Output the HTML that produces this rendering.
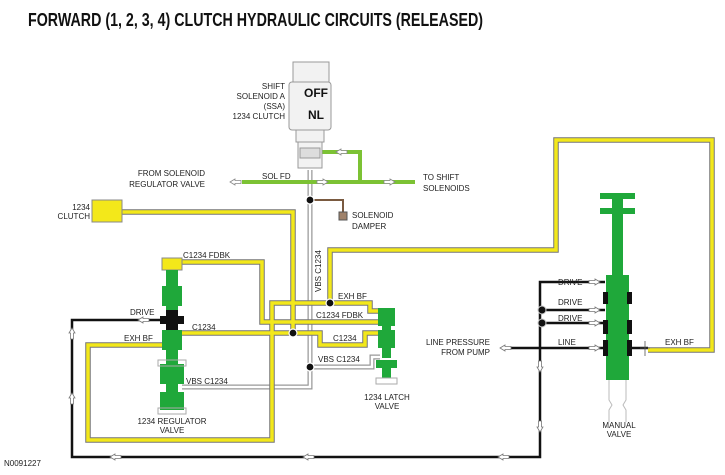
<!DOCTYPE html>
<html><head><meta charset="utf-8"><style>
html,body{margin:0;padding:0;background:#fff;}
svg{display:block;font-family:"Liberation Sans",Arial,sans-serif;}
.t{font-size:8px;fill:#222;}
</style></head><body>
<svg width="725" height="475" viewBox="0 0 725 475" xmlns="http://www.w3.org/2000/svg">
<text x="28" y="26" font-size="18" font-weight="bold" textLength="455" lengthAdjust="spacingAndGlyphs" fill="#111">FORWARD (1, 2, 3, 4) CLUTCH HYDRAULIC CIRCUITS (RELEASED)</text>

<!-- gray VBS lines -->
<g fill="none" stroke="#999" stroke-width="5">
<path d="M310 170 V387 H182"/>
<path d="M310 367 H372 V357 H380"/>
</g>
<g fill="none" stroke="#fff" stroke-width="2.5">
<path d="M310 170 V387 H182"/>
<path d="M310 367 H372 V357 H380"/>
</g>

<!-- yellow lines -->
<g fill="none" stroke="#777" stroke-width="5.5" stroke-linejoin="miter">
<path d="M120 212 H293 V333"/>
<path d="M180 262 H262 V322 H380"/>
<path d="M182 333 H320 V345 H365 V333 H380"/>
<path d="M165 345 H88 V440 H272 V303 H370 V311 H380"/>
<path d="M330 303 V250 H556 V140 H712 V350 H648"/>
</g>
<g fill="none" stroke="#f3e81a" stroke-width="3.5">
<path d="M120 212 H293 V333"/>
<path d="M180 262 H262 V322 H380"/>
<path d="M182 333 H320 V345 H365 V333 H380"/>
<path d="M165 345 H88 V440 H272 V303 H370 V311 H380"/>
<path d="M330 303 V250 H556 V140 H712 V350 H648"/>
</g>
<rect x="92" y="200" width="30" height="22" fill="#f3e81a" stroke="#888"/>
<text class="t" x="90" y="210" text-anchor="end">1234</text>
<text class="t" x="90" y="219" text-anchor="end">CLUTCH</text>

<!-- green sol fd -->
<g fill="none" stroke="#7cc234" stroke-width="4">
<path d="M242 182 H415"/>
<path d="M322 152 H360 V182"/>
</g>
<g fill="#fff" stroke="#888" stroke-width="0.8">
<path d="M230 182 l5 -3 v1.5 h6 v3 h-6 v1.5z"/>
<path d="M328 182 l-5 -3 v1.5 h-6 v3 h6 v1.5z"/>
<path d="M395 182 l-5 -3 v1.5 h-6 v3 h6 v1.5z"/>
<path d="M336 152 l5 -3 v1.5 h6 v3 h-6 v1.5z"/>
</g>
<text class="t" x="205" y="176" text-anchor="end">FROM SOLENOID</text>
<text class="t" x="205" y="187" text-anchor="end">REGULATOR VALVE</text>
<text class="t" x="262" y="179">SOL FD</text>
<text class="t" x="423" y="180">TO SHIFT</text>
<text class="t" x="423" y="191">SOLENOIDS</text>

<!-- solenoid -->
<g fill="#f2f2f2" stroke="#999" stroke-width="1">
<rect x="293" y="62" width="36" height="20"/>
<rect x="289" y="82" width="42" height="48" rx="3"/>
<rect x="296" y="130" width="28" height="12"/>
<rect x="298" y="142" width="24" height="26"/>
<rect x="300" y="148" width="20" height="10" fill="#ddd"/>
</g>
<text x="316" y="97" font-size="12" font-weight="bold" text-anchor="middle" fill="#111">OFF</text>
<text x="316" y="119" font-size="12" font-weight="bold" text-anchor="middle" fill="#111">NL</text>
<text class="t" x="285" y="89" text-anchor="end" font-size="7">SHIFT</text>
<text class="t" x="285" y="99" text-anchor="end" font-size="7">SOLENOID A</text>
<text class="t" x="285" y="109" text-anchor="end" font-size="7">(SSA)</text>
<text class="t" x="285" y="119" text-anchor="end" font-size="7">1234 CLUTCH</text>

<!-- damper -->
<path d="M313 200 H343 V215" fill="none" stroke="#7a5a40" stroke-width="2"/>
<rect x="339" y="212" width="8" height="8" fill="#a0826a" stroke="#555"/>
<text class="t" x="352" y="218">SOLENOID</text>
<text class="t" x="352" y="229">DAMPER</text>
<text x="0" y="0" font-size="8" fill="#222" transform="translate(321,292) rotate(-90)">VBS C1234</text>

<!-- black lines -->
<g fill="none" stroke="#111" stroke-width="2.5">
<path d="M165 320 H72 V457 H540 V282 H605"/>
<path d="M542 310 H605"/>
<path d="M542 323 H605"/>
<path d="M505 348 H605"/>
<path d="M632 348 H648"/>
</g>
<g fill="#fff" stroke="#777" stroke-width="0.8">
<path d="M138 320 l5 -3 v1.5 h6 v3 h-6 v1.5z"/>
<path d="M72 328 l-3 5 h1.5 v6 h3 v-6 h1.5z"/>
<path d="M72 393 l-3 5 h1.5 v6 h3 v-6 h1.5z"/>
<path d="M110 457 l5 -3 v1.5 h6 v3 h-6 v1.5z"/>
<path d="M303 457 l5 -3 v1.5 h6 v3 h-6 v1.5z"/>
<path d="M498 457 l5 -3 v1.5 h6 v3 h-6 v1.5z"/>
<path d="M540 372 l-3 -5 h1.5 v-6 h3 v6 h1.5z"/>
<path d="M540 432 l-3 -5 h1.5 v-6 h3 v6 h1.5z"/>
<path d="M600 282 l-5 -3 v1.5 h-6 v3 h6 v1.5z"/>
<path d="M600 310 l-5 -3 v1.5 h-6 v3 h6 v1.5z"/>
<path d="M600 323 l-5 -3 v1.5 h-6 v3 h6 v1.5z"/>
<path d="M600 348 l-5 -3 v1.5 h-6 v3 h6 v1.5z"/>
<path d="M500 348 l5 -3 v1.5 h6 v3 h-6 v1.5z"/>
</g>
<circle cx="542" cy="310" r="4" fill="#111" stroke="#ccc"/>
<circle cx="542" cy="323" r="4" fill="#111" stroke="#ccc"/>
<path d="M645 341 V356 M640 348 H650" stroke="#555" stroke-width="0.8"/>

<!-- dots -->
<g fill="#111" stroke="#fff" stroke-width="1.2">
<circle cx="310" cy="200" r="4"/>
<circle cx="330" cy="303" r="4"/>
<circle cx="293" cy="333" r="4"/>
<circle cx="310" cy="367" r="4"/>
</g>

<!-- regulator valve -->
<g fill="#1fa83a">
<rect x="162" y="258" width="20" height="12" fill="#f3e81a" stroke="#888"/>
<rect x="166" y="270" width="12" height="16"/>
<rect x="162" y="286" width="20" height="20"/>
<rect x="166" y="306" width="12" height="24"/>
<rect x="162" y="330" width="20" height="20"/>
<rect x="166" y="350" width="12" height="14"/>
<rect x="160" y="364" width="24" height="20"/>
<rect x="166" y="384" width="12" height="8"/>
<rect x="160" y="392" width="24" height="18"/>
</g>
<path d="M160 316 h6 v-6 h12 v6 h6 v8 h-6 v6 h-12 v-6 h-6z" fill="#111"/>
<rect x="158" y="360" width="28" height="6" fill="none" stroke="#aaa"/>
<rect x="158" y="408" width="28" height="6" fill="none" stroke="#aaa"/>
<text class="t" x="183" y="258">C1234 FDBK</text>
<text class="t" x="130" y="315">DRIVE</text>
<text class="t" x="192" y="330">C1234</text>
<text class="t" x="124" y="341">EXH BF</text>
<text class="t" x="186" y="384">VBS C1234</text>
<text class="t" x="172" y="424" text-anchor="middle">1234 REGULATOR</text>
<text class="t" x="172" y="433" text-anchor="middle">VALVE</text>

<!-- latch valve -->
<g fill="#1fa83a">
<rect x="378" y="308" width="17" height="10"/>
<rect x="382" y="318" width="9" height="40"/>
<rect x="378" y="318" width="17" height="8"/>
<rect x="378" y="330" width="17" height="18"/>
<rect x="376" y="360" width="21" height="8"/>
<rect x="382" y="368" width="9" height="10"/>
</g>
<rect x="376" y="378" width="21" height="6" fill="none" stroke="#aaa"/>
<text class="t" x="338" y="299">EXH BF</text>
<text class="t" x="316" y="318">C1234 FDBK</text>
<text class="t" x="333" y="341">C1234</text>
<text class="t" x="318" y="362">VBS C1234</text>
<text class="t" x="387" y="400" text-anchor="middle">1234 LATCH</text>
<text class="t" x="387" y="409" text-anchor="middle">VALVE</text>

<!-- manual valve -->
<g fill="#1fa83a">
<rect x="600" y="193" width="35" height="6"/>
<rect x="600" y="208" width="35" height="6"/>
<rect x="612" y="199" width="11" height="76"/>
<rect x="606" y="275" width="23" height="105"/>
</g>
<g fill="#111">
<rect x="603" y="292" width="5" height="12"/><rect x="627" y="292" width="5" height="12"/>
<rect x="603" y="320" width="5" height="14"/><rect x="627" y="320" width="5" height="14"/>
<rect x="603" y="340" width="5" height="16"/><rect x="627" y="340" width="5" height="16"/>
</g>
<path d="M609 380 v20 l3 5 l-3 5 v12 M626 380 v20 l-3 5 l3 5 v12" fill="none" stroke="#bbb"/>
<text class="t" x="558" y="285">DRIVE</text>
<text class="t" x="558" y="305">DRIVE</text>
<text class="t" x="558" y="321">DRIVE</text>
<text class="t" x="558" y="345">LINE</text>
<text class="t" x="490" y="345" text-anchor="end">LINE PRESSURE</text>
<text class="t" x="490" y="355" text-anchor="end">FROM PUMP</text>
<text class="t" x="665" y="345">EXH BF</text>
<text class="t" x="619" y="428" text-anchor="middle">MANUAL</text>
<text class="t" x="619" y="437" text-anchor="middle">VALVE</text>

<text class="t" x="4" y="466">N0091227</text>
</svg>
</body></html>
